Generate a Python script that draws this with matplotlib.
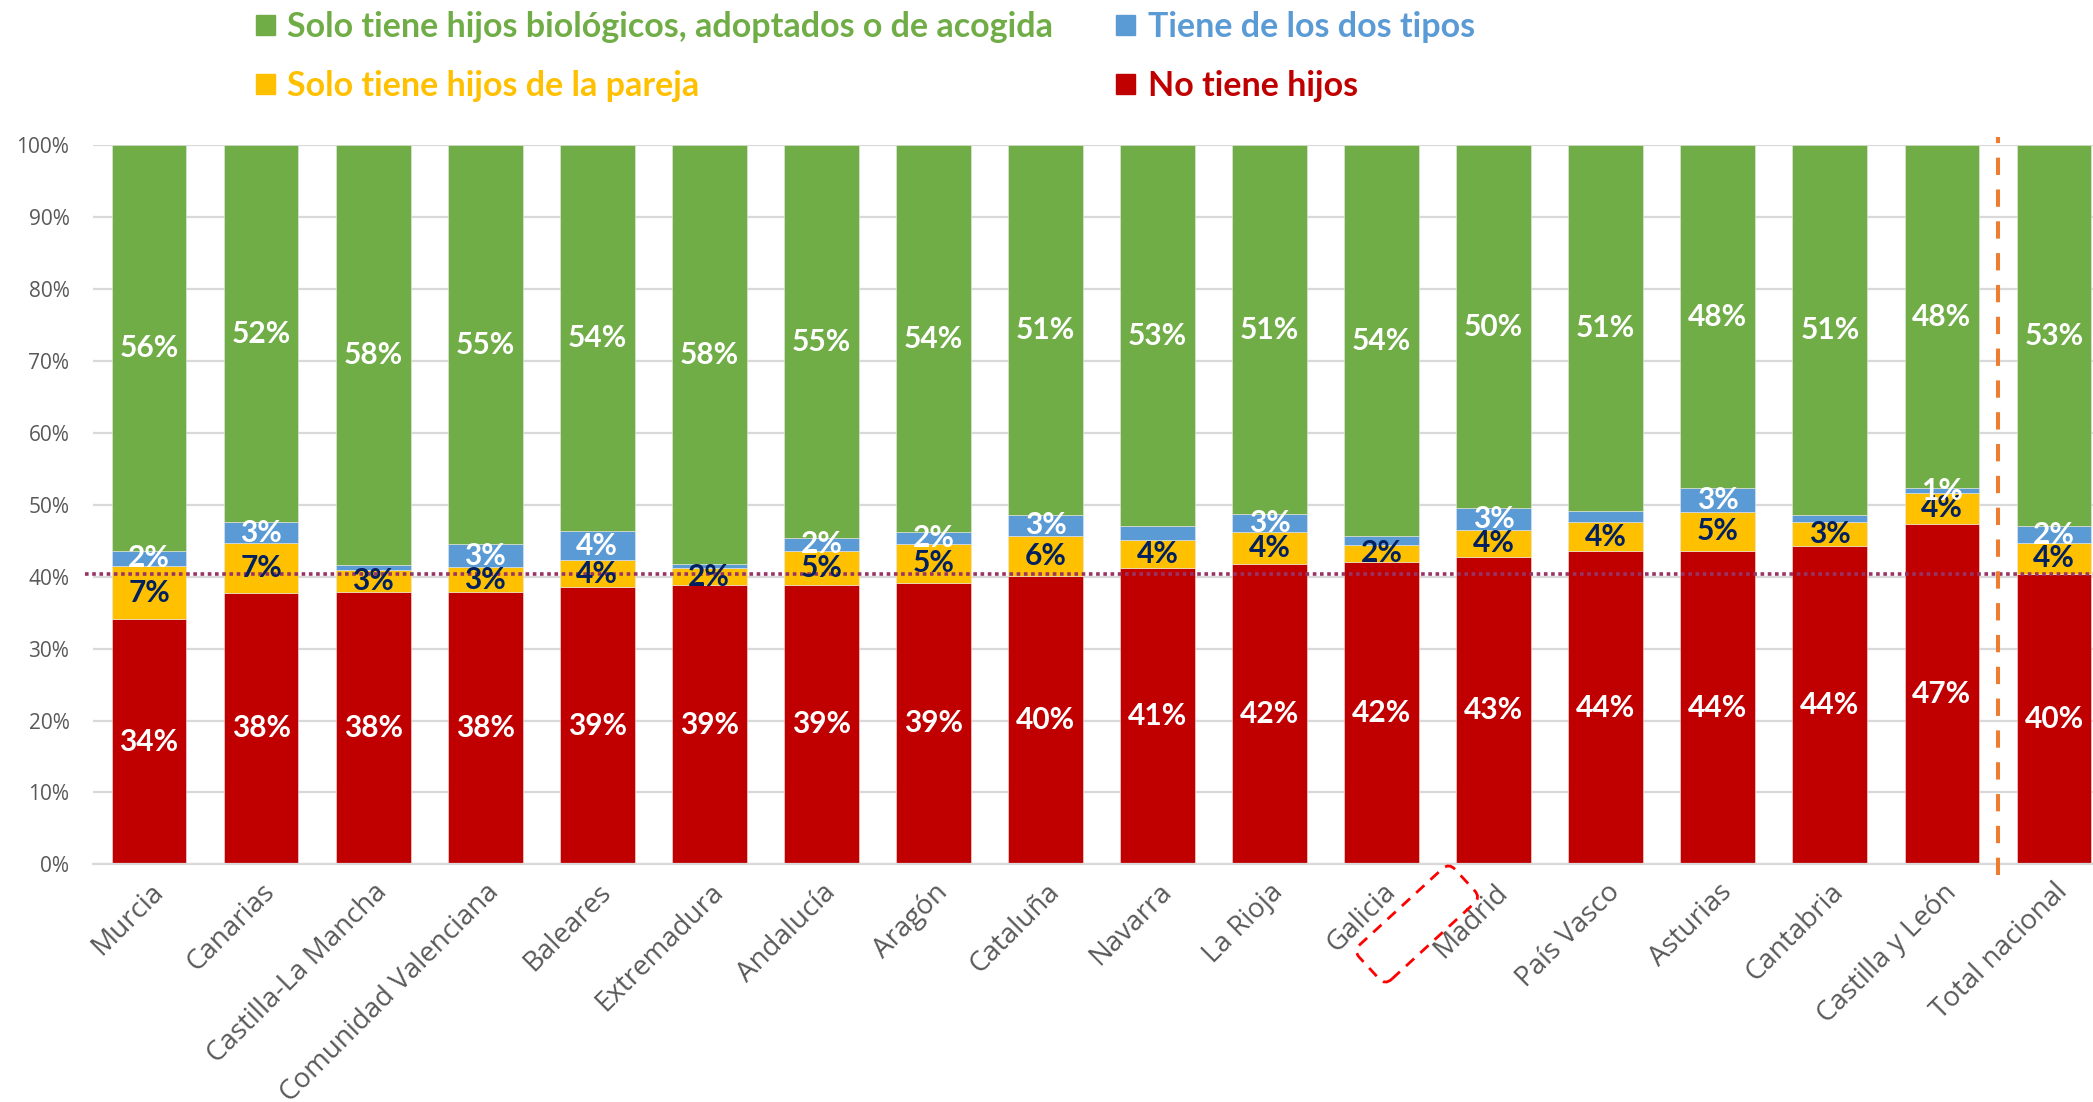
import matplotlib
matplotlib.use("Agg")
import matplotlib.pyplot as plt
from matplotlib.patches import Patch, FancyBboxPatch
from matplotlib.transforms import Affine2D

regions = ["Murcia", "Canarias", "Castilla-La Mancha", "Comunidad Valenciana",
           "Baleares", "Extremadura", "Andalucía", "Aragón", "Cataluña",
           "Navarra", "La Rioja", "Galicia", "Madrid", "País Vasco",
           "Asturias", "Cantabria", "Castilla y León", "Total nacional"]

# percentages of each group, bottom to top of the stack
no_children = [34.1, 37.8, 37.9, 37.9, 38.6, 38.8, 38.9, 39.2, 40.1,
               41.2, 41.8, 42.1, 42.8, 43.6, 43.6, 44.3, 47.4, 40.4]
partner_only = [7.4, 6.9, 3.1, 3.4, 3.7, 2.4, 4.7, 5.4, 5.6,
                3.9, 4.4, 2.3, 3.7, 4.0, 5.4, 3.3, 4.3, 4.3]
both_types = [2.1, 2.9, 0.6, 3.3, 4.1, 0.6, 1.8, 1.6, 2.9,
              1.9, 2.6, 1.3, 3.1, 1.6, 3.4, 1.0, 0.6, 2.3]
own_only = [56.4, 52.4, 58.4, 55.4, 53.6, 58.2, 54.6, 53.8, 51.4,
            53.0, 51.2, 54.3, 50.4, 50.8, 47.6, 51.4, 47.7, 53.0]

# which "both types" segments get a value label
both_labelled = [True, True, False, True, True, False, True, True, True,
                 False, True, False, True, False, True, False, True, True]

legend_labels = ["Solo tiene hijos biológicos, adoptados o de acogida",
                 "Solo tiene hijos de la pareja",
                 "Tiene de los dos tipos",
                 "No tiene hijos"]

RED = "#C00000"
YELLOW = "#FFC000"
BLUE = "#5B9BD5"
GREEN = "#70AD47"
NAVY = "#002060"

W, H, DPI = 2093, 1102, 100
fig = plt.figure(figsize=(W / DPI, H / DPI), dpi=DPI)
ax = fig.add_axes([93 / W, 237.7 / H, 2017 / W, 718.8 / H])

x = list(range(len(regions)))
series = [
    (no_children, RED, "white", None),
    (partner_only, YELLOW, NAVY, None),
    (both_types, BLUE, "white", both_labelled),
    (own_only, GREEN, "white", None),
]

bottom = [0.0] * len(regions)
for values, color, txt_color, show in series:
    ax.bar(x, values, width=0.667, bottom=bottom, color=color,
           edgecolor="#e8e8e8", linewidth=0.4, zorder=2)
    for i, (b, v) in enumerate(zip(bottom, values)):
        if show is not None and not show[i]:
            continue
        ax.text(i, b + v / 2, f"{round(v)}%", ha="center", va="center",
                color=txt_color, fontsize=21.5, fontweight="bold",
                family="Lato", zorder=4)
    bottom = [b + v for b, v in zip(bottom, values)]

# national reference line at the "no children" share
ref = no_children[-1]
ax.plot([-0.57, 17.5], [ref, ref], color="#993366", linewidth=2.6,
        linestyle=(0, (1, 1)), zorder=3, clip_on=False)

# separator before the national total
ax.plot([16.5, 16.5], [-1.5, 101.2], color="#ED7D31", linewidth=2.9,
        linestyle=(0, (4.3, 3.6)), zorder=3, clip_on=False)

ax.set_xlim(-0.5, 17.5)
ax.set_ylim(0, 100)
ax.set_yticks(range(0, 101, 10))
ax.set_yticklabels([f"{t}%" for t in range(0, 101, 10)])
ax.set_xticks(x)
ax.set_xticklabels(regions, rotation=45, ha="right", rotation_mode="anchor")
ax.tick_params(axis="both", length=0, colors="#595959")
ax.tick_params(axis="y", labelsize=15, pad=17)
ax.tick_params(axis="x", labelsize=20, pad=10)
for lab in ax.get_xticklabels() + ax.get_yticklabels():
    lab.set_family("Open Sans")
ax.yaxis.grid(True, color="#D9D9D9", linewidth=1.6, zorder=0)
ax.set_axisbelow(True)
for side in ["top", "right", "left"]:
    ax.spines[side].set_visible(False)
ax.spines["bottom"].set_color("#D9D9D9")
ax.spines["bottom"].set_linewidth(1.6)

handles = [Patch(color=GREEN), Patch(color=YELLOW),
           Patch(color=BLUE), Patch(color=RED)]
leg = fig.legend(handles, legend_labels, ncol=2, loc="upper left",
                 bbox_to_anchor=(256 / W, 1 - 11 / H), frameon=False,
                 borderpad=0, borderaxespad=0, handlelength=0.55,
                 handleheight=0.55, handletextpad=0.37, columnspacing=1.85,
                 labelspacing=0.8,
                 prop={"family": "Lato", "weight": "bold", "size": 24.5})
for text, h in zip(leg.get_texts(), handles):
    text.set_color(h.get_facecolor())

# dashed highlight box next to the Madrid label
box = FancyBboxPatch((-0.65, -0.235), 1.30, 0.47,
                     boxstyle="round,pad=0,rounding_size=0.09",
                     fill=False, edgecolor="#FF0000", linewidth=2,
                     linestyle=(0, (4, 3)),
                     transform=Affine2D().rotate_deg(42.6).translate(14.17, 1.78)
                     + fig.dpi_scale_trans)
fig.patches.append(box)

fig.savefig("out.png", dpi=DPI)
